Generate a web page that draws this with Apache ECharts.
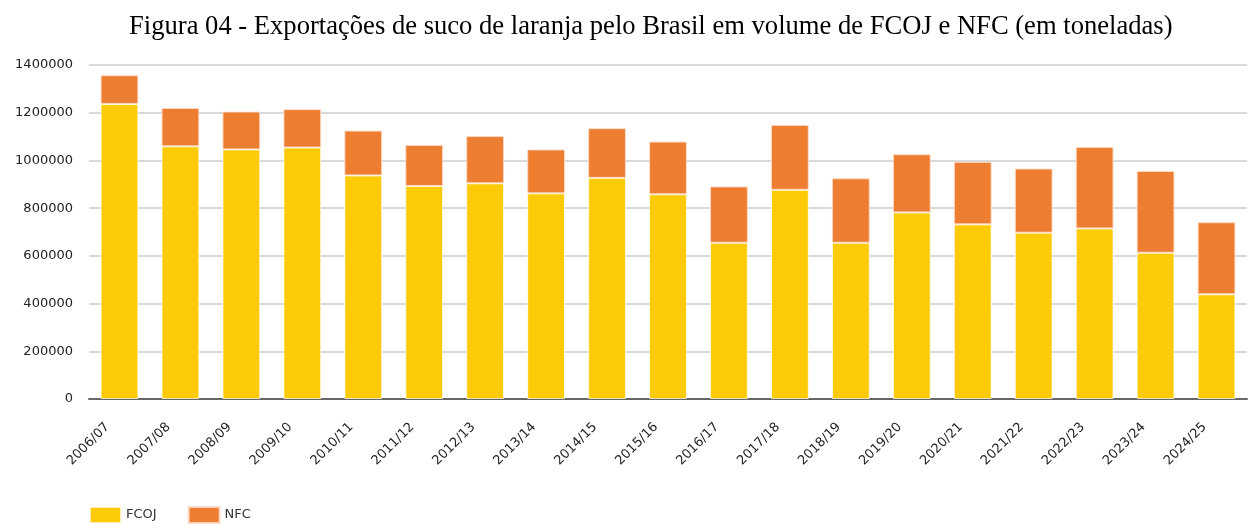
<!DOCTYPE html>
<html>
<head>
<meta charset="utf-8">
<script src="https://cdn.jsdelivr.net/npm/echarts@6/dist/echarts.min.js"></script>
<style>
  html, body { margin: 0; padding: 0; background: #fff; }
  #chart { width: 1253px; height: 525px; }
</style>
</head>
<body>
<div id="chart"></div>
<script>
// safras
const safras = ['2006/07', '2007/08', '2008/09', '2009/10', '2010/11', '2011/12', '2012/13',
  '2013/14', '2014/15', '2015/16', '2016/17', '2017/18', '2018/19', '2019/20', '2020/21',
  '2021/22', '2022/23', '2023/24', '2024/25'];

// toneladas
const fcoj = [1237000, 1059000, 1046000, 1054000, 937000, 893000, 904000, 862000, 927000,
  858000, 655000, 877000, 655000, 782000, 732000, 697000, 715000, 613000, 439000];
const nfc = [120000, 161000, 159000, 161000, 188000, 172000, 198000, 184000, 208000,
  221000, 236000, 272000, 270000, 244000, 262000, 269000, 341000, 343000, 302000];

const yTicks = [0, 200000, 400000, 600000, 800000, 1000000, 1200000, 1400000];

const labelFont = '"DejaVu Sans", Verdana, sans-serif';

const chart = echarts.init(document.getElementById('chart'));

chart.setOption({
  animation: false,
  title: {
    text: 'Figura 04 - Exportações de suco de laranja pelo Brasil em volume de FCOJ e NFC (em toneladas)',
    left: 124,
    top: 9,
    textStyle: {
      fontFamily: '"Liberation Serif", "Times New Roman", serif',
      fontSize: 26.6,
      fontWeight: 'normal',
      color: '#000'
    }
  },
  legend: {
    left: 89,
    bottom: 1,
    padding: 0,
    itemWidth: 31,
    itemHeight: 16,
    itemGap: 31,
    icon: 'rect',
    textStyle: { fontFamily: labelFont, fontSize: 13, color: '#333' },
    data: ['FCOJ', 'NFC']
  },
  grid: {
    left: 89,
    right: 6,
    top: 65,
    bottom: 126
  },
  xAxis: {
    type: 'category',
    data: safras,
    axisTick: { show: false },
    axisLine: { lineStyle: { color: '#666', width: 2 } },
    axisLabel: {
      rotate: 45,
      margin: 14,
      padding: [0, 17, 0, 0],
      fontFamily: labelFont,
      fontSize: 13,
      color: '#222'
    }
  },
  yAxis: {
    type: 'value',
    min: yTicks[0],
    max: yTicks[yTicks.length - 1],
    interval: 200000,
    axisLine: { show: false },
    axisTick: { show: false },
    splitLine: { lineStyle: { color: '#d9d9d9', width: 2 } },
    axisLabel: {
      margin: 16,
      fontFamily: labelFont,
      fontSize: 13,
      color: '#222',
      formatter: function (v) { return String(v); }
    }
  },
  series: [
    {
      name: 'FCOJ',
      type: 'bar',
      stack: 'total',
      barWidth: '62%',
      data: fcoj,
      itemStyle: { color: '#FDCA06', borderColor: 'rgba(255,255,255,0.7)', borderWidth: 1 }
    },
    {
      name: 'NFC',
      type: 'bar',
      stack: 'total',
      data: nfc,
      itemStyle: { color: '#ED7D31', borderColor: 'rgba(255,220,200,0.9)', borderWidth: 1 }
    }
  ]
});
</script>
</body>
</html>
